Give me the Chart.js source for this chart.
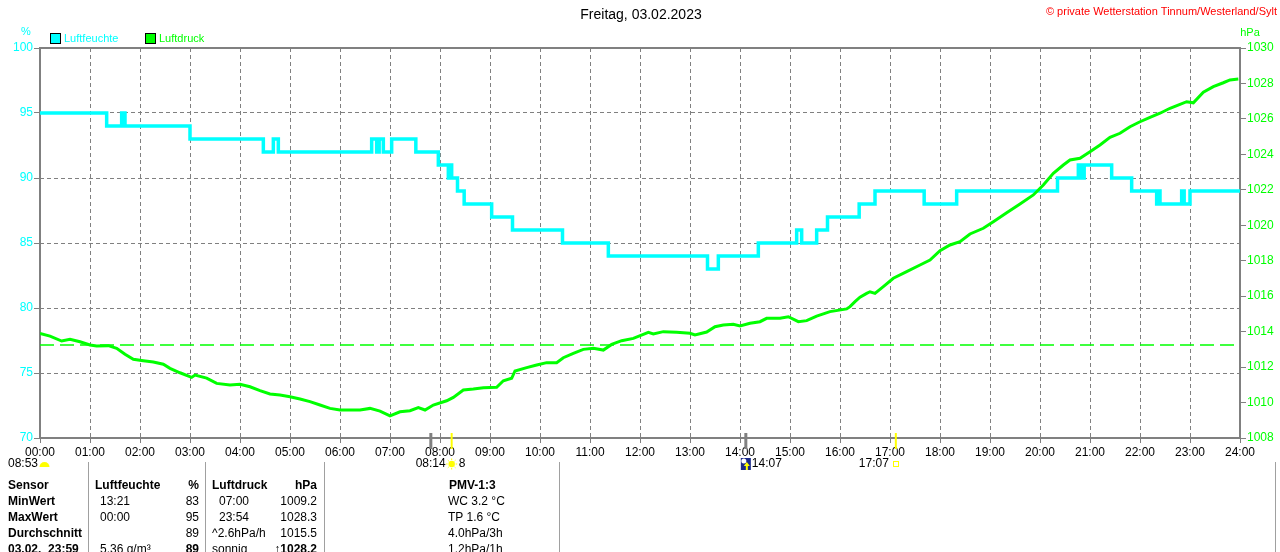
<!DOCTYPE html>
<html>
<head>
<meta charset="utf-8">
<script src="https://cdn.jsdelivr.net/npm/chart.js@4/dist/chart.umd.min.js"></script>
<style>
html,body{margin:0;padding:0;background:#fff;overflow:hidden;}
#wrap{position:relative;width:1280px;height:552px;overflow:hidden;font-family:"Liberation Sans",Arial,sans-serif;}
#c{position:absolute;left:0;top:0;}
.cell{position:absolute;font-size:12px;line-height:16px;height:16px;white-space:pre;color:#000;}
.b{font-weight:bold;}
.sep{position:absolute;top:462px;height:90px;width:1px;background:#a0a0a0;}
</style>
</head>
<body>
<div id="wrap">
<canvas id="c" width="1280" height="552"></canvas>
</div>
<script>
// ---------- data ----------
const chartTitle = 'Freitag, 03.02.2023';
const copyright = '\u00A9 private Wetterstation Tinnum/Westerland/Sylt';
const seriesNames = ['Luftfeuchte', 'Luftdruck'];

// humidity (%) : time in minutes since 00:00, value held from that time until next change
const humTimes  = [0,80,98,102,180,268,280,286,398,404,407,412,422,451,478,490,492,494,501,509,542,567,627,682,801,814,862,908,914,932,945,983,1002,1061,1100,1221,1246,1249,1253,1286,1310,1340,1342,1344,1370,1373,1380,1440];
const humValues = [95,94,95,94,93,92,93,92,93,92,93,92,93,92,91,90,91,90,89,88,87,86,85,84,83,84,85,86,85,86,87,88,89,88,89,90,91,90,91,90,89,88,89,88,89,88,89,89];

// pressure (hPa)
const pressTimes  = [0,12,26,36,48,60,68,82,92,102,112,124,136,148,156,168,182,186,200,212,228,240,252,264,276,288,300,312,324,336,348,360,372,384,396,408,420,432,444,454,462,472,488,496,508,520,532,548,556,566,570,584,596,608,620,628,640,652,664,676,686,698,712,724,730,736,748,764,780,786,800,810,820,832,840,852,864,872,888,898,910,920,932,948,968,972,978,984,992,996,1002,1012,1024,1040,1056,1068,1080,1092,1104,1116,1132,1144,1160,1176,1192,1204,1216,1228,1236,1248,1260,1272,1284,1296,1308,1320,1332,1344,1356,1368,1376,1384,1396,1408,1420,1428,1438];
const pressValues = [1013.9,1013.75,1013.47,1013.57,1013.43,1013.25,1013.19,1013.21,1013.06,1012.72,1012.44,1012.36,1012.29,1012.16,1011.93,1011.68,1011.42,1011.55,1011.38,1011.08,1010.99,1011.03,1010.89,1010.67,1010.48,1010.42,1010.33,1010.2,1010.05,1009.86,1009.67,1009.58,1009.58,1009.58,1009.67,1009.52,1009.25,1009.48,1009.54,1009.71,1009.58,1009.86,1010.1,1010.29,1010.71,1010.76,1010.84,1010.86,1011.23,1011.37,1011.78,1011.97,1012.12,1012.25,1012.25,1012.53,1012.78,1013.0,1013.06,1012.96,1013.28,1013.49,1013.62,1013.85,1013.96,1013.87,1014.0,1013.96,1013.91,1013.81,1013.98,1014.28,1014.37,1014.41,1014.32,1014.47,1014.56,1014.75,1014.75,1014.84,1014.56,1014.62,1014.88,1015.13,1015.28,1015.41,1015.69,1015.94,1016.16,1016.25,1016.16,1016.54,1017.01,1017.38,1017.76,1018.04,1018.57,1018.89,1019.07,1019.51,1019.83,1020.2,1020.71,1021.2,1021.71,1022.27,1022.93,1023.4,1023.68,1023.78,1024.15,1024.53,1024.96,1025.19,1025.56,1025.84,1026.09,1026.32,1026.6,1026.82,1026.97,1026.91,1027.5,1027.82,1028.04,1028.2,1028.25];

const refPressure = 1013.25;

// axis ranges / ticks
const xMin = 0, xMax = 1440, xStep = 60;
const humMin = 70, humMax = 100, humStep = 5;
const pressMin = 1008, pressMax = 1030, pressStep = 2;

// astronomical markers (minutes)
const markTimes  = [469, 494, 847, 1027];
const markKinds  = ['grey', 'sun', 'grey', 'sun'];
const moonsetLabel = '08:53';
const sunriseLabel = '08:14', sunriseTime = 494, sunriseExtra = '8';
const moonriseLabel = '14:07', moonriseTime = 847;
const sunsetLabel = '17:07', sunsetTime = 1027;

// table
const tableRows = [
  ['Sensor','Luftfeuchte','%','Luftdruck','hPa','PMV-1:3'],
  ['MinWert','13:21','83','07:00','1009.2','WC 3.2 \u00B0C'],
  ['MaxWert','00:00','95','23:54','1028.3','TP 1.6 \u00B0C'],
  ['Durchschnitt','','89','^2.6hPa/h','1015.5','4.0hPa/3h'],
  ['03.02.  23:59','5.36 g/m\u00B3','89','sonnig','\u21911028.2','1.2hPa/1h']
];

// ---------- table (HTML) ----------
const wrap = document.getElementById('wrap');
[88,205,324,559,1275].forEach(x=>{const d=document.createElement('div');d.className='sep';d.style.left=x+'px';wrap.appendChild(d);});
tableRows.forEach((row,i)=>{
  const top = 477 + 16*i;
  const header = i===0;
  const defs = [
    {x:8, align:'left', bold:true},
    {x: header?95:100, align:'left', bold:header},
    {x:199, align:'right', bold:header || i===4},
    {x: header||i>=3?212:219, align:'left', bold:header},
    {x:317, align:'right', bold:header || i===4},
    {x: header?449:448, align:'left', bold:header}
  ];
  row.forEach((txt,j)=>{
    if(!txt) return;
    const d=document.createElement('div');
    d.className='cell'+(defs[j].bold?' b':'');
    d.textContent=txt;
    d.style.top=top+'px';
    if(defs[j].align==='left') d.style.left=defs[j].x+'px';
    else d.style.right=(1280-defs[j].x)+'px';
    wrap.appendChild(d);
  });
});

// ---------- chart ----------
const FONT = '"Liberation Sans", Arial, sans-serif';
const CYAN = '#00FFFF', GREEN = '#00FF00', GREY = '#808080';
const two = n => String(n).padStart(2,'0');

const decor = {
  id:'decor',
  beforeDatasetsDraw(chart){
    const {ctx, chartArea:a} = chart;
    ctx.save();
    ctx.strokeStyle = GREY; ctx.lineWidth = 2;
    ctx.strokeRect(a.left, a.top, a.right-a.left, a.bottom-a.top);
    ctx.restore();
  },
  afterDraw(chart){
    const {ctx, chartArea:a} = chart;
    const xs = chart.scales.x;
    ctx.save();
    ctx.textBaseline='middle';
    // title
    ctx.fillStyle='#000'; ctx.font='14px '+FONT; ctx.textAlign='center';
    ctx.fillText(chartTitle, 641, 15);
    // copyright
    ctx.fillStyle='#FF0000'; ctx.font='11px '+FONT; ctx.textAlign='right';
    ctx.fillText(copyright, 1277, 12);
    // units
    ctx.font='11px '+FONT; ctx.textAlign='center';
    ctx.fillStyle=CYAN; ctx.fillText('%', 26, 32);
    ctx.fillStyle=GREEN; ctx.fillText('hPa', 1250, 33);
    // legend
    const leg = [[50,CYAN],[145,GREEN]];
    leg.forEach((l,i)=>{
      ctx.fillStyle=l[1]; ctx.fillRect(l[0]+0.5,33.5,10,10);
      ctx.strokeStyle='#000'; ctx.lineWidth=1; ctx.strokeRect(l[0]+0.5,33.5,10,10);
      ctx.fillStyle=l[1]; ctx.textAlign='left'; ctx.font='11px '+FONT;
      ctx.fillText(seriesNames[i], l[0]+14, 38.5);
    });
    // markers
    markTimes.forEach((t,i)=>{
      const x = xs.getPixelForValue(t);
      ctx.beginPath();
      if(markKinds[i]==='grey'){ctx.strokeStyle=GREY; ctx.lineWidth=3;}
      else {ctx.strokeStyle='#FFFF00'; ctx.lineWidth=2;}
      ctx.moveTo(x, a.bottom-5); ctx.lineTo(x, a.bottom+11); ctx.stroke();
    });
    ctx.fillStyle='#000'; ctx.font='12px '+FONT;
    // moonset at left margin
    ctx.textAlign='right'; ctx.fillText(moonsetLabel, 38, 464);
    ctx.fillStyle='#FFFF00'; ctx.beginPath(); ctx.arc(44.5,467,5,Math.PI,0); ctx.closePath(); ctx.fill();
    // sunrise
    let x = xs.getPixelForValue(sunriseTime);
    ctx.fillStyle='#000'; ctx.textAlign='right'; ctx.fillText(sunriseLabel, x-6, 464);
    ctx.fillStyle='#FFFF00'; ctx.beginPath(); ctx.arc(x,464,3.2,0,Math.PI*2); ctx.fill();
    ctx.strokeStyle='#FFFF00'; ctx.lineWidth=1;
    for(let k=0;k<8;k++){const an=k*Math.PI/4;ctx.beginPath();ctx.moveTo(x+Math.cos(an)*4,464+Math.sin(an)*4);ctx.lineTo(x+Math.cos(an)*5.5,464+Math.sin(an)*5.5);ctx.stroke();}
    ctx.fillStyle='#000'; ctx.textAlign='left'; ctx.fillText(sunriseExtra, x+7, 464);
    // moonrise
    x = xs.getPixelForValue(moonriseTime);
    ctx.fillStyle='#1a2a8a'; ctx.fillRect(x-5,458,10,12);
    ctx.fillStyle='#fff'; ctx.beginPath(); ctx.arc(x-2,461,2.5,0,Math.PI*2); ctx.fill();
    ctx.fillStyle='#FFFF00'; ctx.beginPath(); ctx.moveTo(x+1,462); ctx.lineTo(x+4,466); ctx.lineTo(x-2,466); ctx.closePath(); ctx.fill();
    ctx.fillRect(x,466,2,4);
    ctx.fillStyle='#000'; ctx.textAlign='left'; ctx.fillText(moonriseLabel, x+6, 464);
    // sunset
    x = xs.getPixelForValue(sunsetTime);
    ctx.textAlign='right'; ctx.fillText(sunsetLabel, x-7, 464);
    ctx.strokeStyle='#FFFF00'; ctx.lineWidth=1; ctx.strokeRect(Math.round(x)-2.5,461.5,5,5);
    ctx.restore();
  }
};

new Chart(document.getElementById('c'), {
  type:'line',
  data:{
    datasets:[
      {
        label: seriesNames[1],
        data: pressTimes.map((t,i)=>({x:t,y:pressValues[i]})),
        yAxisID:'y1', borderColor:GREEN, borderWidth:3, pointRadius:0, tension:0, order:0
      },
      {
        label: seriesNames[0],
        data: humTimes.map((t,i)=>({x:t,y:humValues[i]})),
        yAxisID:'y', borderColor:CYAN, borderWidth:3.5, pointRadius:0, stepped:'before', order:1
      },
      {
        label:'ref',
        data:[{x:xMin,y:refPressure},{x:xMax,y:refPressure}],
        yAxisID:'y1', borderColor:GREEN, borderWidth:1.5, borderDash:[14,6], pointRadius:0, order:2
      }
    ]
  },
  options:{
    responsive:false, animation:false, devicePixelRatio:1,
    layout:{padding:{top:48,left:0,right:0,bottom:0}},
    plugins:{legend:{display:false}, title:{display:false}, tooltip:{enabled:false}},
    scales:{
      x:{
        type:'linear', min:xMin, max:xMax,
        afterFit(s){s.height=114;},
        ticks:{stepSize:xStep, autoSkip:false, maxRotation:0, color:'#000', padding:2,
          font:{family:FONT,size:12}, callback:v=>two(v/60)+':00'},
        grid:{color:GREY, lineWidth:1, tickLength:5, tickColor:GREY},
        border:{display:false, dash:[4,3]}
      },
      y:{
        position:'left', min:humMin, max:humMax,
        afterFit(s){s.width=40;},
        ticks:{stepSize:humStep, color:CYAN, padding:1, font:{family:FONT,size:12}, callback:v=>String(v)},
        grid:{color:GREY, lineWidth:1, tickLength:6, tickColor:GREY},
        border:{display:false, dash:[4,3]}
      },
      y1:{
        position:'right', min:pressMin, max:pressMax,
        afterFit(s){s.width=40;},
        ticks:{stepSize:pressStep, color:GREEN, padding:1, font:{family:FONT,size:12}, callback:v=>String(v)},
        grid:{drawOnChartArea:false, color:GREY, tickLength:6, tickColor:GREY},
        border:{display:false}
      }
    }
  },
  plugins:[decor]
});
</script>
</body>
</html>
